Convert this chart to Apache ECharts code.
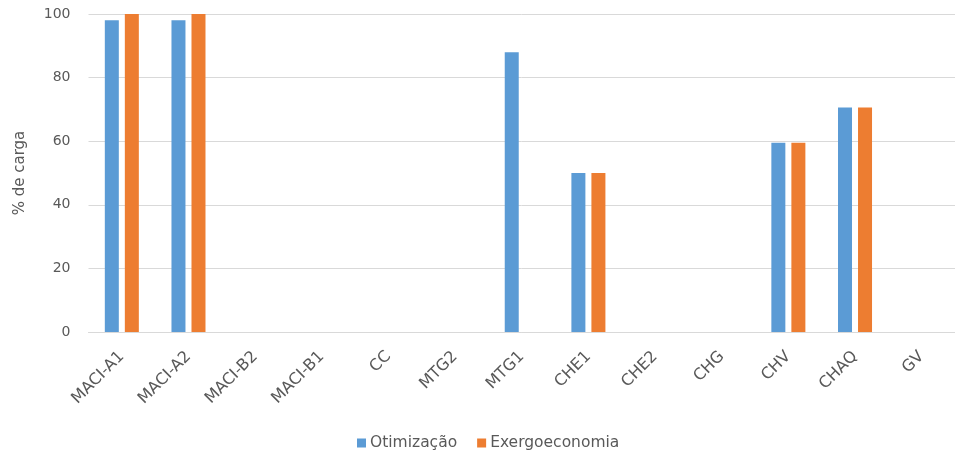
<!DOCTYPE html>
<html>
<head>
<meta charset="utf-8">
<script src="https://cdn.jsdelivr.net/npm/echarts@6/dist/echarts.min.js"></script>
<style>
html, body { margin: 0; padding: 0; background: #fff; }
#chart { width: 955px; height: 456px; }
</style>
</head>
<body>
<div id="chart"></div>
<script>
// Load share per equipment for the two operating strategies
const categories = ['MACI-A1', 'MACI-A2', 'MACI-B2', 'MACI-B1', 'CC', 'MTG2', 'MTG1', 'CHE1', 'CHE2', 'CHG', 'CHV', 'CHAQ', 'GV'];
const otimizacao = [98, 98, 0, 0, 0, 0, 88, 50, 0, 0, 59.5, 70.6, 0];
const exergoeconomia = [100, 100, 0, 0, 0, 0, 0, 50, 0, 0, 59.5, 70.6, 0];
const yTicks = { min: 0, max: 100, interval: 20 };

const textColor = '#595959';
const font = 'DejaVu Sans';

const chart = echarts.init(document.getElementById('chart'));
chart.setOption({
  animation: false,
  textStyle: { fontFamily: font },
  // plot area runs slightly past the right edge of the canvas
  grid: { left: 88.5, right: -7, top: 14, bottom: 124 },
  legend: {
    bottom: 0,
    left: 352,
    itemWidth: 9,
    itemHeight: 9,
    itemGap: 20,
    icon: 'rect',
    textStyle: { color: textColor, fontSize: 15.5, fontFamily: font, padding: [0, 0, 0, -1] }
  },
  xAxis: {
    type: 'category',
    data: categories,
    axisLine: { lineStyle: { color: '#d9d9d9', width: 1 } },
    axisTick: { show: false },
    axisLabel: { rotate: 45, color: textColor, fontSize: 16, margin: 22, interval: 0 }
  },
  yAxis: {
    type: 'value',
    min: yTicks.min,
    max: yTicks.max,
    interval: yTicks.interval,
    name: '% de carga',
    nameLocation: 'middle',
    nameGap: 61,
    nameTextStyle: { color: textColor, fontSize: 15 },
    axisLine: { show: false },
    axisTick: { show: false },
    axisLabel: { color: textColor, fontSize: 14, margin: 18 },
    splitLine: { lineStyle: { color: '#d9d9d9', width: 1 } }
  },
  series: [
    {
      name: 'Otimização',
      type: 'bar',
      data: otimizacao,
      barWidth: 14,
      barGap: '43%',
      itemStyle: { color: '#5b9bd5' }
    },
    {
      name: 'Exergoeconomia',
      type: 'bar',
      data: exergoeconomia,
      barWidth: 14,
      itemStyle: { color: '#ed7d31' }
    }
  ]
});
</script>
</body>
</html>
